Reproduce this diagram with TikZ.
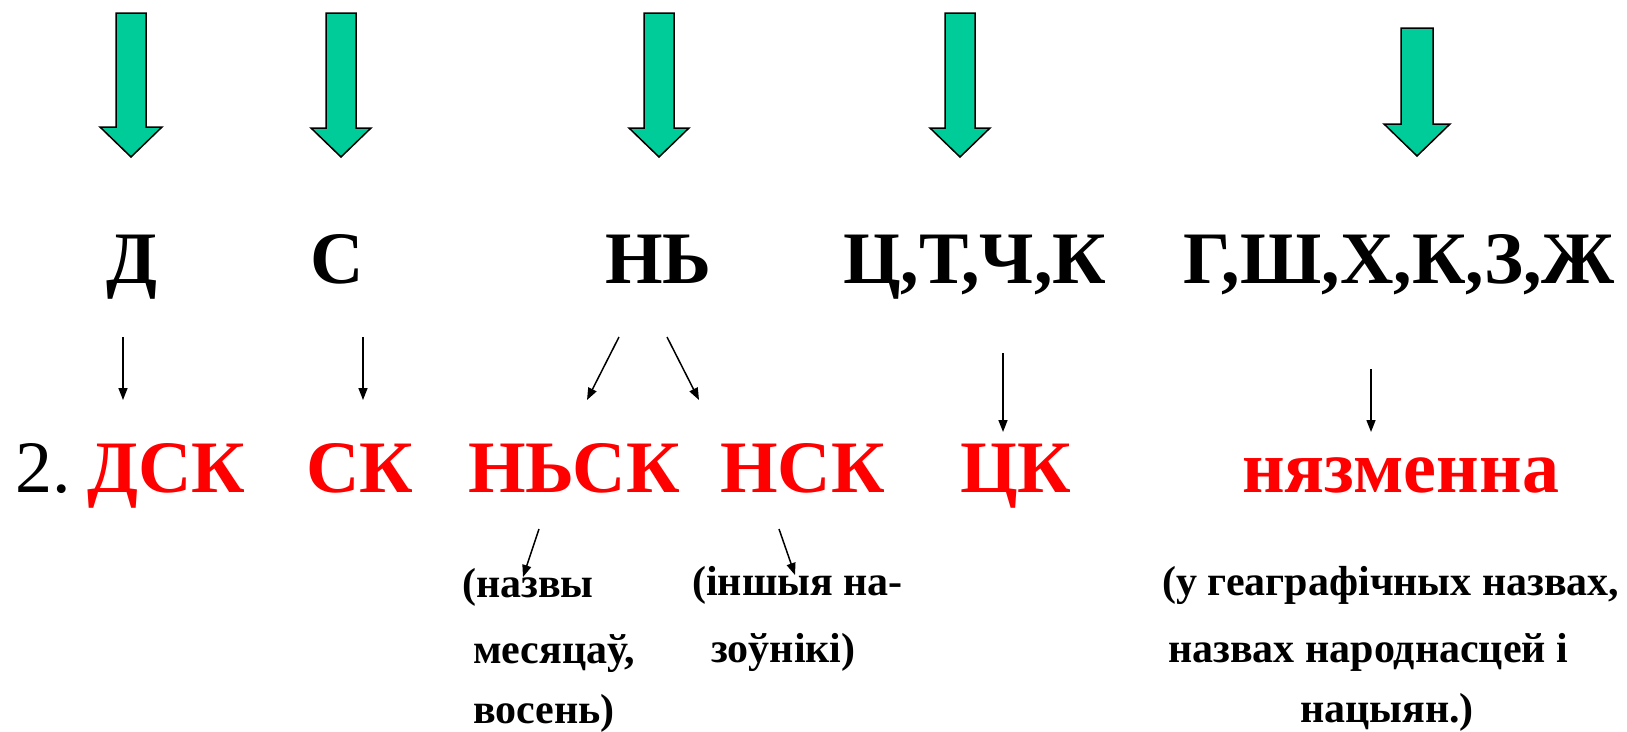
\documentclass[tikz,border=0pt]{standalone}
\usepackage{fontspec}
\setmainfont{LiberationSerif}[Extension=.ttf,UprightFont=*-Regular,BoldFont=*-Bold]
\usetikzlibrary{arrows.meta}
\definecolor{arrgreen}{RGB}{0,204,153}
\definecolor{redtxt}{RGB}{255,0,0}
\newcommand{\myblockarrow}[6]{% x, top, base, tip, shaft half width, head half width
  \draw[blockarr] (#1-#5,#2) -- (#1+#5,#2) -- (#1+#5,#3) -- (#1+#6,#3) -- (#1,#4) -- (#1-#6,#3) -- (#1-#5,#3) -- cycle;}
\begin{document}
\begin{tikzpicture}[x=1pt,y=-1pt,
  blockarr/.style={fill=arrgreen,draw=black,line width=1.5pt,line join=miter},
  bigtxt/.style={anchor=base west,inner sep=0pt,font=\fontsize{74}{80}\selectfont\bfseries},
  redtxt/.style={bigtxt,text=redtxt},
  smalltxt/.style={anchor=base west,inner sep=0pt,font=\fontsize{42}{48}\selectfont\bfseries},
  thinarr/.style={line width=1.5pt,-{Triangle[length=12pt,width=9pt]}}]
\useasboundingbox (0,0) rectangle (1627,731);
% green block arrows
\myblockarrow{131}{13}{127}{157}{15}{31}
\myblockarrow{341}{13}{128}{157}{15}{30}
\myblockarrow{659}{13}{128}{157}{15}{30}
\myblockarrow{960}{13}{128}{157}{15}{30}
\myblockarrow{1417}{28}{124}{156}{16}{33}
% row 1
\node[bigtxt] (d) at (106,283) {Д};
\node[bigtxt] (s) at (310,283) {С};
\node[bigtxt] (nj) at (605,283) {НЬ};
\node[bigtxt] (ts) at (843,283) {Ц,Т,Ч,К};
\node[bigtxt] (g) at (1183,283) {Г,Ш,Х,К,З,Ж};
% row 2
\node[anchor=base west,inner sep=0pt,font=\fontsize{74}{80}\selectfont] (two) at (15,492) {2.};
\node[redtxt] (dsk) at (87,492) {ДСК};
\node[redtxt] (sk) at (306,492) {СК};
\node[redtxt] (njsk) at (468,492) {НЬСК};
\node[redtxt] (nsk) at (720,492) {НСК};
\node[redtxt] (tsk) at (960,492) {ЦК};
\node[redtxt] (nyaz) at (1242,492) {нязменна};
% notes
\node[smalltxt] (n1a) at (462,597) {(назвы};
\node[smalltxt] (n1b) at (473,663) {месяцаў,};
\node[smalltxt] (n1c) at (473,723) {восень)};
\node[smalltxt] (n2a) at (692,595) {(іншыя на-};
\node[smalltxt] (n2b) at (711,662) {зоўнікі)};
\node[smalltxt] (n3a) at (1162,595) {(у геаграфічных назвах,};
\node[smalltxt] (n3b) at (1168,662) {назвах народнасцей і};
\node[smalltxt] (n3c) at (1300,722) {нацыян.)};
% arrow end points
\coordinate (a1s) at (123,337); \coordinate (a1e) at (123,400);
\coordinate (a2s) at (363,337); \coordinate (a2e) at (363,400);
\coordinate (a3s) at (619,337); \coordinate (a3e) at (587,400);
\coordinate (a4s) at (667,337); \coordinate (a4e) at (699,400);
\coordinate (a5s) at (1003,353); \coordinate (a5e) at (1003,432);
\coordinate (a6s) at (1371,369); \coordinate (a6e) at (1371,432);
\coordinate (a7s) at (539,529); \coordinate (a7e) at (523,577);
\coordinate (a8s) at (779,529); \coordinate (a8e) at (795,575);
\draw[thinarr] (a1s) -- (a1e);
\draw[thinarr] (a2s) -- (a2e);
\draw[thinarr] (a3s) -- (a3e);
\draw[thinarr] (a4s) -- (a4e);
\draw[thinarr] (a5s) -- (a5e);
\draw[thinarr] (a6s) -- (a6e);
\draw[thinarr] (a7s) -- (a7e);
\draw[thinarr] (a8s) -- (a8e);
\end{tikzpicture}
\end{document}
